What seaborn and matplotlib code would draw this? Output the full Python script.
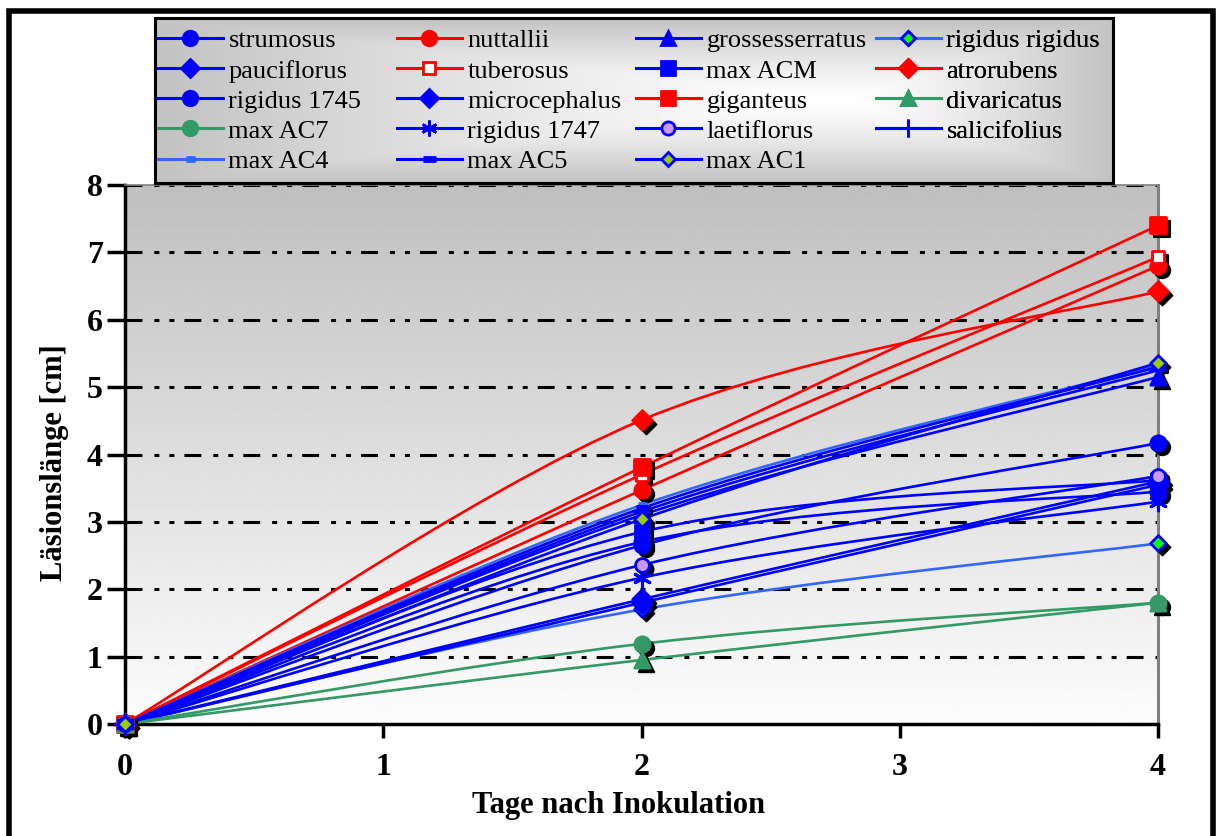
import numpy as np
import matplotlib
matplotlib.use("Agg")
import matplotlib.pyplot as plt
import matplotlib.transforms as mtransforms
from matplotlib.path import Path
from matplotlib.patches import PathPatch, Rectangle
from matplotlib.lines import Line2D
import seaborn as sns

# ---- data: lesion length (cm) per day after inoculation ----
days = [0, 2, 4]

strumosus = [0, 2.65, 4.17]
nuttallii = [0, 3.47, 6.80]
grossesserratus = [0, 3.10, 5.15]
rigidus_rigidus = [0, 1.70, 2.68]
pauciflorus = [0, 1.80, 3.55]
tuberosus = [0, 3.70, 6.93]
max_acm = [0, 2.85, 3.62]
atrorubens = [0, 4.51, 6.42]
rigidus_1745 = [0, 2.70, 3.45]
microcephalus = [0, 1.85, 3.60]
giganteus = [0, 3.81, 7.40]
divaricatus = [0, 0.95, 1.80]
max_ac7 = [0, 1.19, 1.80]
rigidus_1747 = [0, 2.17, 3.30]
laetiflorus = [0, 2.36, 3.68]
salicifolius = [0, 3.15, 5.25]
max_ac4 = [0, 3.25, 5.32]
max_ac5 = [0, 3.20, 5.30]
max_ac1 = [0, 3.04, 5.36]

y_ticks = [0, 1, 2, 3, 4, 5, 6, 7, 8]
x_ticks = [0, 1, 2, 3, 4]

# ---- styles ----
BLUE = "#0000ff"
RED = "#ff0000"
GREEN = "#339966"
LBLUE = "#3366ff"

bar_marker = [(-1, -0.35), (1, -0.35), (1, 0.35), (-1, 0.35)]
small_bar = [(-1, -0.45), (1, -0.45), (1, 0.45), (-1, 0.45)]
star6 = (6, 2, 0)

# name, values, line colour, marker, face, edge, marker size (pt)
series = [
    ("strumosus", strumosus, BLUE, "o", BLUE, BLUE, 11),
    ("nuttallii", nuttallii, RED, "o", RED, RED, 11),
    ("grossesserratus", grossesserratus, BLUE, "^", BLUE, BLUE, 11),
    ("rigidus rigidus", rigidus_rigidus, LBLUE, "D", "#00ff00", BLUE, 8),
    ("pauciflorus", pauciflorus, BLUE, "D", BLUE, BLUE, 10),
    ("tuberosus", tuberosus, RED, "s", "white", RED, 9),
    ("max ACM", max_acm, BLUE, "s", BLUE, BLUE, 10),
    ("atrorubens", atrorubens, RED, "D", RED, RED, 10),
    ("rigidus 1745", rigidus_1745, BLUE, "o", BLUE, BLUE, 11),
    ("microcephalus", microcephalus, BLUE, "D", BLUE, BLUE, 10),
    ("giganteus", giganteus, RED, "s", RED, RED, 11),
    ("divaricatus", divaricatus, GREEN, "^", GREEN, GREEN, 11),
    ("max AC7", max_ac7, GREEN, "o", GREEN, GREEN, 11),
    ("rigidus 1747", rigidus_1747, BLUE, star6, BLUE, BLUE, 12),
    ("laetiflorus", laetiflorus, BLUE, "o", "#cc99ff", BLUE, 10),
    ("salicifolius", salicifolius, BLUE, "+", BLUE, BLUE, 13),
    ("max AC4", max_ac4, LBLUE, small_bar, LBLUE, LBLUE, 6),
    ("max AC5", max_ac5, BLUE, bar_marker, BLUE, BLUE, 9),
    ("max AC1", max_ac1, BLUE, "D", "#99cc00", BLUE, 8),
]

plt.rcParams["font.family"] = ["Liberation Serif", "DejaVu Serif"]
plt.rcParams["lines.scale_dashes"] = False

W, H = 1217, 836
fig = plt.figure(figsize=(W / 100, H / 100), dpi=100)
fig.patch.set_facecolor("white")

# plot area in pixel geometry
x0, x1, y0, y1 = 125, 1158, 724, 185
ax = fig.add_axes([x0 / W, 1 - y0 / H, (x1 - x0) / W, (y0 - y1) / H])

# vertical grey-to-white backdrop of the plot area
grad = np.linspace(0.75, 0.99, 256).reshape(-1, 1)
ax.imshow(grad, extent=[0, 4, 0, 8], aspect="auto", cmap="gray",
          vmin=0, vmax=1, origin="upper", zorder=0, interpolation="bilinear")

# dash-dot-dot gridlines
for yv in y_ticks[1:]:
    ax.axhline(yv, color="black", lw=2.2,
               linestyle=(0, (12.2, 8.6, 3.6, 7.2, 3.6, 7.2)), zorder=1)


def smooth_path(xs, ys):
    pts = np.column_stack([xs, ys]).astype(float)
    n = len(pts)
    verts = [pts[0]]
    codes = [Path.MOVETO]
    for i in range(n - 1):
        p0 = pts[max(i - 1, 0)]
        p1 = pts[i]
        p2 = pts[i + 1]
        p3 = pts[min(i + 2, n - 1)]
        c1 = p1 + (p2 - p0) / 6.0
        c2 = p2 - (p3 - p1) / 6.0
        verts += [c1, c2, p2]
        codes += [Path.CURVE4] * 3
    return Path(verts, codes)


shadow = mtransforms.offset_copy(ax.transData, fig=fig, x=4, y=-4, units="dots")

for name, vals, lc, mk, fc, ec, ms in series:
    ax.add_patch(PathPatch(smooth_path(days, vals), fill=False, edgecolor=lc,
                           lw=1.9, zorder=3, clip_on=False))

for name, vals, lc, mk, fc, ec, ms in series:
    filled = mk not in ("+", star6)
    if filled:
        sns.scatterplot(x=days, y=vals, marker=mk, s=ms ** 2, color="black",
                        edgecolor="black", linewidth=1.5, ax=ax, zorder=4,
                        clip_on=False, transform=shadow, legend=False)
    sns.scatterplot(x=days, y=vals, marker=mk, s=ms ** 2, color=fc,
                    edgecolor=ec, linewidth=2.0 if filled else 2.2, ax=ax,
                    zorder=5, clip_on=False, legend=False)

ax.set_xlim(0, 4)
ax.set_ylim(0, 8)
ax.set_xticks(x_ticks)
ax.set_yticks(y_ticks)
ax.set_xticklabels([str(v) for v in x_ticks], fontsize=23, fontweight="bold")
ax.set_yticklabels([str(v) for v in y_ticks], fontsize=23, fontweight="bold")
ax.tick_params(axis="y", length=13, width=2.5, direction="out", pad=3)
ax.tick_params(axis="x", length=10, width=2.5, direction="out", pad=11)
ax.set_xlabel("Tage nach Inokulation", fontsize=22, fontweight="bold")
ax.set_ylabel("Läsionslänge [cm]", fontsize=22, fontweight="bold")
ax.xaxis.set_label_coords(0.478, -0.124)
ax.yaxis.set_label_coords(-0.054, 0.484)

for side in ("left", "bottom"):
    ax.spines[side].set_linewidth(2.5)
    ax.spines[side].set_color("black")
ax.spines["right"].set_color("#808080")
ax.spines["right"].set_linewidth(2.2)
ax.spines["top"].set_color("#808080")
ax.spines["top"].set_linewidth(1.2)
for sp in ax.spines.values():
    sp.set_zorder(2)

# legend box with its own shaded backdrop
lx0, lx1, ly0, ly1 = 155, 1113, 183, 18
bg = fig.add_axes([lx0 / W, 1 - ly0 / H, (lx1 - lx0) / W, (ly0 - ly1) / H], zorder=5)
gx = np.linspace(0, 1, 400)
gy = np.linspace(0, 1, 120)
GX, GY = np.meshgrid(gx, gy)
cx = 0.72
dx = np.where(GX < cx, (cx - GX) / cx, (GX - cx) / (1 - cx))
dy = np.abs(GY - 0.5) / 0.5
d = np.maximum(dx, dy)
bg.imshow(1 - 0.24 * d ** 1.3, cmap="gray", vmin=0, vmax=1, aspect="auto",
          extent=[0, 1, 0, 1], interpolation="bilinear")
bg.set_xlim(0, 1)
bg.set_ylim(0, 1)
bg.set_axis_off()
bg.add_patch(Rectangle((0, 0), 1, 1, transform=bg.transAxes, fill=False,
                       edgecolor="black", lw=2.2, clip_on=False, zorder=3))

handles = []
for name, vals, lc, mk, fc, ec, ms in series:
    handles.append(Line2D([], [], color=lc, lw=2.2, marker=mk, markersize=ms * 0.95,
                          markerfacecolor=fc, markeredgecolor=ec,
                          markeredgewidth=2.0, label=name))

# four equally spaced legend columns, entries read row by row
ncols = 4
col_x = [158, 397, 636, 876]
leg_ax = fig.add_axes([0, 0, 1, 1], zorder=6)
leg_ax.set_axis_off()
for c in range(ncols):
    col_handles = handles[c::ncols]
    lg = leg_ax.legend(handles=col_handles, loc="upper left",
                       bbox_to_anchor=(col_x[c] / W, 1 - 29 / H),
                       fontsize=19, frameon=False, handlelength=2.45,
                       handletextpad=0.22, labelspacing=0.25,
                       borderaxespad=0, borderpad=0)
    leg_ax.add_artist(lg)

# thick outer frame of the figure
fig.patches.append(Rectangle((9 / W, -0.02), (1213 - 9) / W, 1 - 11 / H + 0.02,
                             transform=fig.transFigure, fill=False,
                             edgecolor="black", lw=4, zorder=10))

fig.savefig("out.png", dpi=100, facecolor="white")
